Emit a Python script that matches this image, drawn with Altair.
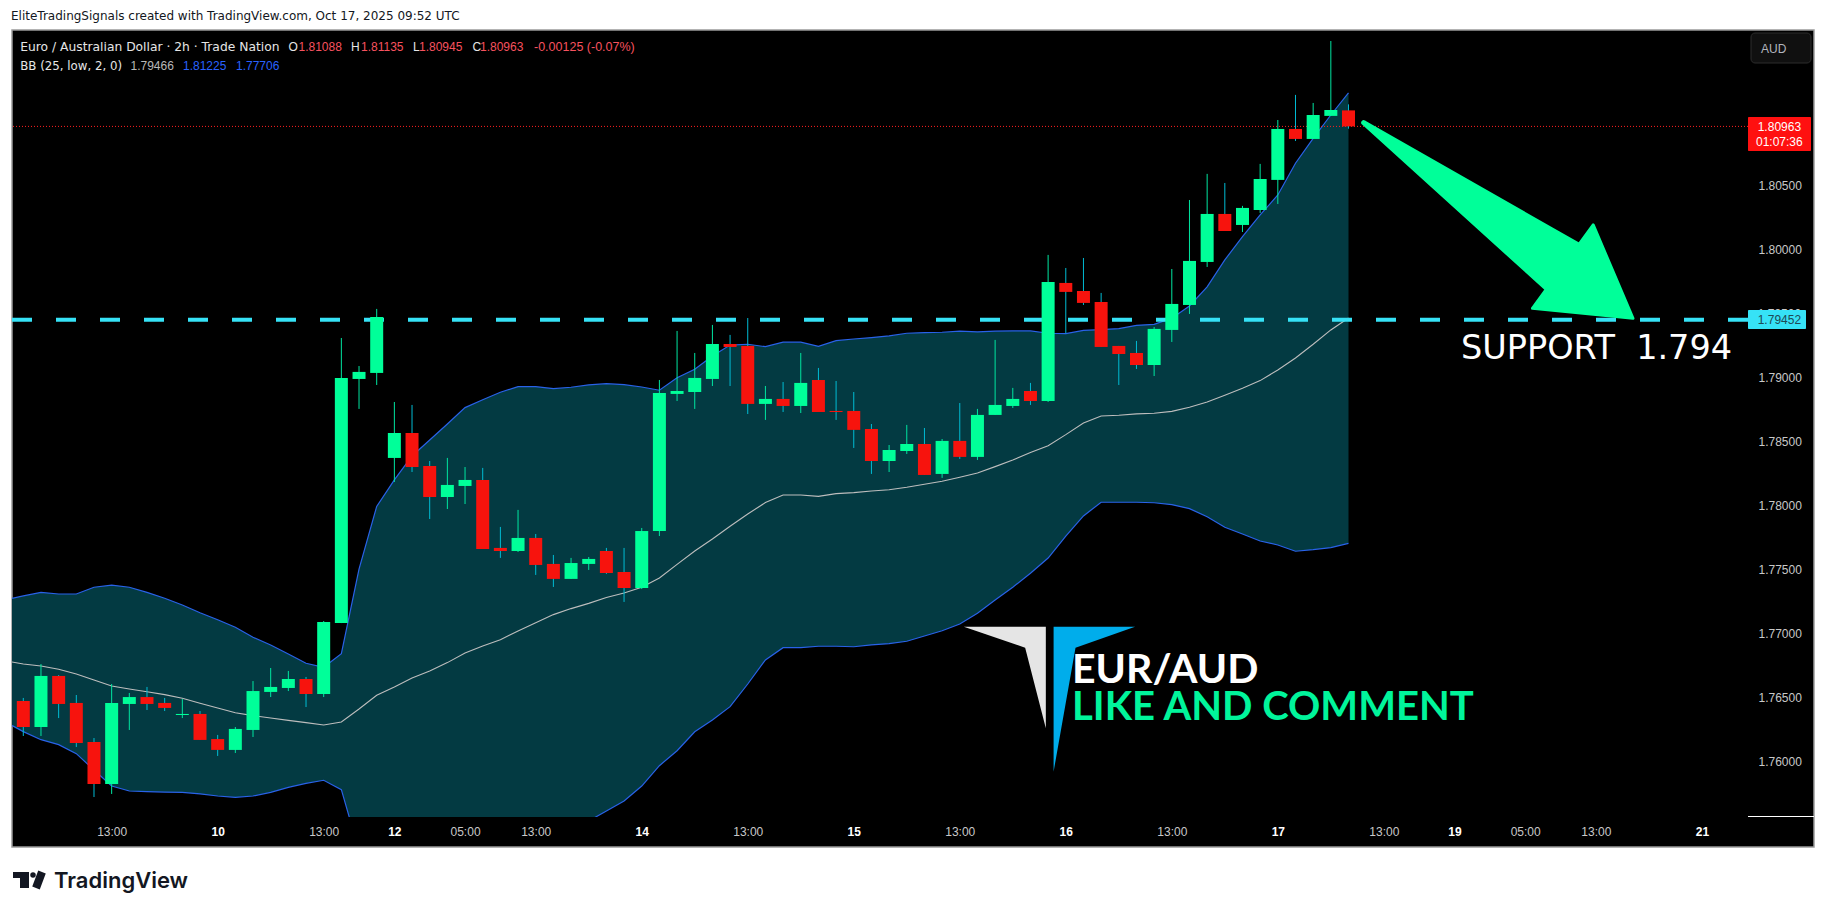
import altair as alt
import pandas as pd

# ---- candles (2h bars, index 0 = first fully visible bar) ----
opens = [1.76474,1.76271,1.76670,1.76459,1.76154,1.75826,1.76451,1.76505,1.76459,1.76365,
         1.76373,1.76177,1.76092,1.76248,1.76545,1.76576,1.76646,1.76529,1.77083,1.78990,
         1.79037,1.78373,1.78568,1.78310,1.78068,1.78154,1.78201,1.77670,1.77646,1.77748,
         1.77545,1.77428,1.77545,1.77646,1.77482,1.77357,1.77802,1.78873,1.78888,1.78990,
         1.79263,1.79248,1.78795,1.78834,1.78779,1.78982,1.78740,1.78740,1.78599,1.78349,
         1.78427,1.78482,1.78248,1.78506,1.78381,1.78709,1.78779,1.78896,1.78818,1.79740,
         1.79677,1.79591,1.79248,1.79193,1.79099,1.79373,1.79568,1.79904,1.80279,1.80193,
         1.80310,1.80545,1.80943,1.80865,1.81045,1.81088]
highs = [1.76498,1.76763,1.76677,1.76521,1.76185,1.76607,1.76537,1.76584,1.76498,1.76490,
         1.76396,1.76209,1.76271,1.76630,1.76732,1.76709,1.76662,1.77099,1.79310,1.79091,
         1.79537,1.78810,1.78787,1.78349,1.78373,1.78302,1.78295,1.77834,1.77967,1.77779,
         1.77615,1.77592,1.77599,1.77670,1.77670,1.77826,1.78982,1.79365,1.79193,1.79412,
         1.79334,1.79466,1.78935,1.78966,1.79193,1.79076,1.78974,1.78888,1.78638,1.78474,
         1.78631,1.78607,1.78521,1.78802,1.78756,1.79295,1.78920,1.78959,1.79959,1.79857,
         1.79935,1.79662,1.79248,1.79287,1.79396,1.79849,1.80388,1.80592,1.80521,1.80342,
         1.80670,1.81013,1.81209,1.81146,1.81630,1.81135]
lows = [1.76201,1.76201,1.76341,1.76115,1.75724,1.75748,1.76248,1.76404,1.76396,1.76341,
        1.76170,1.76045,1.76068,1.76193,1.76505,1.76552,1.76427,1.76505,1.77083,1.78756,
        1.78943,1.78185,1.78263,1.77896,1.77974,1.78013,1.77662,1.77592,1.77638,1.77459,
        1.77365,1.77428,1.77498,1.77467,1.77248,1.77349,1.77763,1.78818,1.78756,1.78935,
        1.78935,1.78716,1.78670,1.78732,1.78724,1.78732,1.78670,1.78451,1.78248,1.78263,
        1.78404,1.78240,1.78217,1.78365,1.78357,1.78709,1.78763,1.78787,1.78810,1.79347,
        1.79568,1.79240,1.78943,1.79068,1.79013,1.79279,1.79498,1.79865,1.80146,1.80138,
        1.80287,1.80357,1.80849,1.80865,1.81045,1.80945]
closes = [1.76271,1.76670,1.76451,1.76146,1.75826,1.76459,1.76505,1.76451,1.76420,1.76373,
          1.76170,1.76092,1.76256,1.76552,1.76584,1.76646,1.76529,1.77091,1.78998,1.79045,
          1.79474,1.78568,1.78302,1.78068,1.78162,1.78201,1.77662,1.77646,1.77748,1.77537,
          1.77428,1.77552,1.77584,1.77474,1.77357,1.77802,1.78881,1.78896,1.78998,1.79263,
          1.79240,1.78795,1.78834,1.78779,1.78959,1.78732,1.78732,1.78592,1.78349,1.78435,
          1.78482,1.78240,1.78506,1.78381,1.78709,1.78787,1.78834,1.78818,1.79748,1.79670,
          1.79584,1.79240,1.79185,1.79099,1.79381,1.79576,1.79912,1.80279,1.80146,1.80326,
          1.80552,1.80943,1.80865,1.81052,1.81091,1.80963]

# ---- Bollinger bands, bar index -1 .. 75 ----
bb_upper = [1.77266,1.77295,1.77323,1.77310,1.77310,1.77363,1.77380,1.77363,1.77323,1.77277,
            1.77224,1.77164,1.77109,1.77050,1.76972,1.76912,1.76841,1.76769,1.76738,1.76844,
            1.77505,1.77994,1.78201,1.78388,1.78513,1.78638,1.78766,1.78828,1.78886,1.78930,
            1.78930,1.78914,1.78925,1.78943,1.78953,1.78945,1.78927,1.78902,1.79000,1.79066,
            1.79170,1.79255,1.79261,1.79242,1.79277,1.79277,1.79245,1.79289,1.79302,1.79313,
            1.79326,1.79347,1.79352,1.79355,1.79363,1.79357,1.79363,1.79365,1.79365,1.79347,
            1.79344,1.79370,1.79375,1.79383,1.79409,1.79417,1.79464,1.79560,1.79709,1.79920,
            1.80102,1.80271,1.80427,1.80675,1.80870,1.81052,1.81225]
bb_mid = [1.76787,1.76763,1.76748,1.76722,1.76685,1.76638,1.76591,1.76568,1.76547,1.76524,
          1.76495,1.76456,1.76420,1.76383,1.76360,1.76341,1.76323,1.76305,1.76287,1.76310,
          1.76412,1.76519,1.76584,1.76654,1.76709,1.76774,1.76849,1.76904,1.76953,1.77021,
          1.77086,1.77149,1.77196,1.77237,1.77282,1.77318,1.77362,1.77435,1.77542,1.77646,
          1.77740,1.77839,1.77935,1.78024,1.78084,1.78084,1.78073,1.78094,1.78102,1.78115,
          1.78125,1.78144,1.78167,1.78191,1.78222,1.78256,1.78305,1.78357,1.78415,1.78469,
          1.78555,1.78646,1.78701,1.78706,1.78717,1.78722,1.78737,1.78769,1.78810,1.78862,
          1.78917,1.78977,1.79060,1.79154,1.79261,1.79373,1.79466]
bb_lower = [1.76310,1.76235,1.76172,1.76133,1.76063,1.75935,1.75810,1.75771,1.75766,1.75763,
            1.75761,1.75748,1.75732,1.75722,1.75732,1.75761,1.75800,1.75831,1.75855,1.75782,
            1.75302,1.75150,1.75070,1.75030,1.75030,1.75070,1.75150,1.75230,1.75270,1.75310,
            1.75350,1.75400,1.75460,1.75537,1.75615,1.75693,1.75810,1.75969,1.76086,1.76234,
            1.76326,1.76430,1.76607,1.76795,1.76891,1.76891,1.76902,1.76902,1.76898,1.76912,
            1.76922,1.76941,1.76982,1.77023,1.77076,1.77159,1.77263,1.77363,1.77472,1.77591,
            1.77763,1.77920,1.78027,1.78027,1.78027,1.78023,1.78008,1.77977,1.77914,1.77831,
            1.77779,1.77724,1.77693,1.77644,1.77656,1.77672,1.77706]

last_price = 1.80963
support_price = 1.79452

# ---- axes ----
price_ticks = [1.76, 1.765, 1.77, 1.775, 1.78, 1.785, 1.79, 1.80, 1.805]
time_ticks = [5, 11, 17, 21, 25, 29, 35, 41, 47, 53, 59, 65, 71, 77, 81, 85, 89, 95]
time_labels = ["13:00","10","13:00","12","05:00","13:00","14","13:00","15","13:00","16",
               "13:00","17","13:00","19","05:00","13:00","21"]
day_ticks = [11, 21, 35, 47, 59, 71, 81, 95]

# ---- annotation shapes, in bar index / price ----
shaft_x = [75.86, 86.48, 88.33]
shaft_top = [1.80992, 1.80156, 1.80011]
shaft_bottom = [1.80992, 1.79664, 1.80011]
head_x = [85.41, 88.85, 91.10]
head_top = [1.79542, 1.80193, 1.79464]
head_bottom = [1.79542, 1.79495, 1.79464]
logo_grey_x = [53.23, 56.70, 57.87]
logo_grey_top = [1.77055, 1.77055, 1.77055]
logo_grey_bottom = [1.77055, 1.76891, 1.76261]
logo_blue_x = [58.31, 59.55, 62.92]
logo_blue_top = [1.77055, 1.77055, 1.77055]
logo_blue_bottom = [1.75922, 1.76891, 1.77055]

GREEN = "#00FF99"
RED = "#F7130D"
WICK_UP = "#00E6A1"
WICK_DOWN = "#00BCD4"
BAND = "#033A42"
BLUE = "#2962E8"
CYAN = "#36E2F6"
FONT = "Liberation Sans"
TXT = "DejaVu Sans"
X0, Y0, W, H = 12, 30, 1736, 787

x_scale = alt.Scale(domain=[-0.64, 97.61], nice=False, zero=False, padding=0)
y_scale = alt.Scale(domain=[1.75568, 1.81716], nice=False, zero=False, padding=0)
one = pd.DataFrame({"a": [0]})

x_axis = alt.Axis(
    values=time_ticks,
    labelExpr="%s[indexof(%s, datum.value)]" % (time_labels, time_ticks),
    labelFontWeight=alt.expr("indexof(%s, datum.value) >= 0 ? 'bold' : 'normal'" % day_ticks),
    labelColor=alt.expr("indexof(%s, datum.value) >= 0 ? '#ffffff' : '#c8c8c8'" % day_ticks),
    labelFont=FONT, labelFontSize=12, labelPadding=9, labelOverlap=False, labelFlush=False,
    ticks=False, domain=False, grid=False, title=None, zindex=1,
)
y_axis = alt.Axis(
    orient="right", values=price_ticks, format=".5f", labelColor="#c8c8c8", labelFont=FONT,
    labelFontSize=12, labelPadding=10, labelOverlap=False, labelFlush=False,
    ticks=False, domain=False, grid=False, title=None, zindex=1,
)
Xq = lambda f="x": alt.X(f"{f}:Q", scale=x_scale, axis=x_axis)
Yq = lambda f="y": alt.Y(f"{f}:Q", scale=y_scale, axis=y_axis)


def box(x1, x2, y1, y2, fill, **kw):
    return alt.Chart(one).mark_rect(fill=fill, **kw).encode(
        x=alt.value(x1 - X0), x2=alt.value(x2 - X0), y=alt.value(y1 - Y0), y2=alt.value(y2 - Y0))


def label(text, x, y, color, size=12, weight="normal", font=FONT, baseline="middle", **kw):
    return alt.Chart(pd.DataFrame({"t": [text]})).mark_text(
        align="left", baseline=baseline, color=color, fontSize=size, fontWeight=weight, font=font, **kw
    ).encode(text="t:N", x=alt.value(x - X0), y=alt.value(y - Y0))


def shape(xs, tops, bottoms, color, **kw):
    d = pd.DataFrame({"x": xs, "y": tops, "y2": bottoms})
    return alt.Chart(d).mark_area(color=color, **kw).encode(x=Xq(), y=Yq(), y2="y2:Q")


candles = pd.DataFrame({"x": range(76), "o": opens, "h": highs, "l": lows, "c": closes})
candles["top"] = candles[["o", "c"]].max(axis=1)
candles["bot"] = candles[["o", "c"]].min(axis=1)
up = candles[candles.c >= candles.o]
down = candles[candles.c < candles.o]
bb = pd.DataFrame({"x": range(-1, 76), "u": bb_upper, "m": bb_mid, "d": bb_lower})

frame = box(X0, 1814, Y0, 847, "#000000", stroke="#9a9a9a", strokeWidth=1.5)

band = alt.Chart(bb).mark_area(color=BAND, clip=True).encode(x=Xq(), y=Yq("d"), y2="u:Q")
up_line = alt.Chart(bb).mark_line(color=BLUE, strokeWidth=1.2, clip=True).encode(x=Xq(), y=Yq("u"))
low_line = alt.Chart(bb).mark_line(color=BLUE, strokeWidth=1.2, clip=True).encode(x=Xq(), y=Yq("d"))
mid_line = alt.Chart(bb).mark_line(color="#BDBDBD", strokeWidth=1.1, clip=True).encode(x=Xq(), y=Yq("m"))

last_line = alt.Chart(pd.DataFrame({"y": [last_price]})).mark_rule(
    color="#FF2020", strokeWidth=1, strokeDash=[1, 2]).encode(y=Yq())
support_line = alt.Chart(pd.DataFrame({"y": [support_price]})).mark_rule(
    color=CYAN, strokeWidth=4, strokeDash=[20, 24]).encode(y=Yq())


def wick(df, color):
    return alt.Chart(df).mark_rule(color=color, strokeWidth=1).encode(x=Xq(), y=Yq("l"), y2="h:Q")


def body(df, color):
    return alt.Chart(df).mark_bar(color=color, size=13, orient="vertical").encode(
        x=Xq(), y=Yq("bot"), y2="top:Q")


layers = [
    frame, band, up_line, low_line, mid_line, last_line, support_line,
    wick(up, WICK_UP), wick(down, WICK_DOWN), body(up, GREEN), body(down, RED),
    shape(shaft_x, shaft_top, shaft_bottom, GREEN, stroke=GREEN, strokeWidth=5, strokeJoin="round"),
    shape(head_x, head_top, head_bottom, GREEN, stroke=GREEN, strokeWidth=3, strokeJoin="round"),
    shape(logo_grey_x, logo_grey_top, logo_grey_bottom, "#E5E5E5"),
    shape(logo_blue_x, logo_blue_top, logo_blue_bottom, "#00ADEB"),
    # axis furniture
    box(1748, 1814, 816, 817, "#FFFFFF"),
    label("1.79500", 1757.7, 313.7, "#c8c8c8"),
    box(1748, 1811, 117, 151, "#FF1010", cornerRadius=1),
    label("1.80963", 1757.7, 126.7, "#FFFFFF"),
    label("01:07:36", 1756, 141.7, "#FFFFFF"),
    box(1748, 1806, 310, 329, CYAN, cornerRadius=1),
    label("1.79452", 1757.7, 319.5, "#1E4A55"),
    box(1751, 1811, 33, 63, "#101010", stroke="#2C2C2C", strokeWidth=1, cornerRadius=4),
    label("AUD", 1761, 48.7, "#B2B5BE", size=12),
    # header and legend
    label("EliteTradingSignals created with TradingView.com, Oct 17, 2025 09:52 UTC", 11, 16.3, "#131722", size=12, font=TXT),
    label("Euro / Australian Dollar · 2h · Trade Nation", 20.2, 46.7, "#E6E6E6", size=12.3, font=TXT),
    label("O", 288.6, 46.7, "#E6E6E6"), label("1.81088", 298.5, 46.7, "#F7525F"),
    label("H", 351, 46.7, "#E6E6E6"), label("1.81135", 361, 46.7, "#F7525F"),
    label("L", 413, 46.7, "#E6E6E6"), label("1.80945", 419, 46.7, "#F7525F"),
    label("C", 472.5, 46.7, "#E6E6E6"), label("1.80963", 480, 46.7, "#F7525F"),
    label("-0.00125 (-0.07%)", 534, 46.7, "#F7525F", size=12.5),
    label("BB (25, low, 2, 0)", 20.2, 65.7, "#E6E6E6", size=11.8, font=TXT),
    label("1.79466", 130.5, 65.7, "#B8B8B8"),
    label("1.81225", 183, 65.7, "#2962FF"),
    label("1.77706", 236, 65.7, "#2962FF"),
    # call-outs
    label("SUPPORT\u00a0\u00a01.794", 1461, 359, "#FFFFFF", size=33.5, font="DejaVu Sans", baseline="alphabetic"),
    label("EUR/AUD", 1072, 683, "#FFFFFF", size=41, weight="bold", font="Lato", baseline="alphabetic"),
    label("LIKE AND COMMENT", 1072, 720, "#00F59B", size=40, weight="bold", font="Lato", baseline="alphabetic"),
    # TradingView mark and wordmark
    box(13, 29, 872, 878, "#131722"),
    box(20, 29, 872, 888, "#131722"),
    alt.Chart(one).mark_point(filled=True, color="#131722", size=30, opacity=1).encode(
        x=alt.value(33 - X0), y=alt.value(875 - Y0)),
    alt.Chart(one).mark_rule(color="#131722", strokeWidth=8).encode(
        x=alt.value(42 - X0), x2=alt.value(36 - X0), y=alt.value(872 - Y0), y2=alt.value(888 - Y0)),
    label("TradingView", 54, 888, "#131722", size=22, weight=600, font="Inter", baseline="alphabetic"),
]

chart = alt.layer(*layers).properties(
    width=W, height=H,
    padding={"left": 4, "top": 22, "right": 70, "bottom": 80},
    autosize=alt.AutoSizeParams(type="none"),
    background="#FFFFFF",
).configure_view(stroke=None)

chart.save("out.html", embed_options={"renderer": "svg", "actions": False})
